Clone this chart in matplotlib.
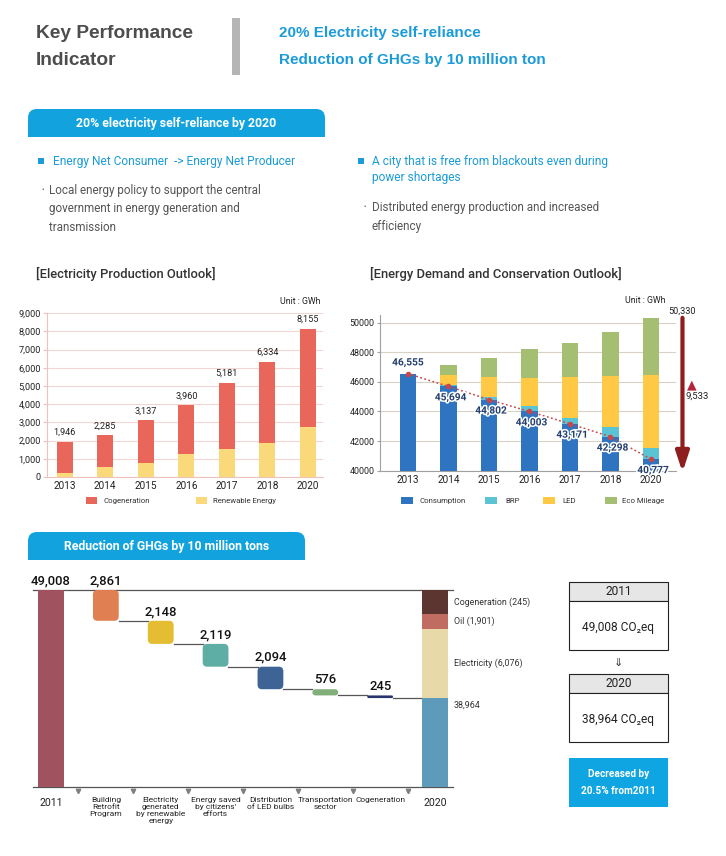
import matplotlib
matplotlib.use('Agg')
import matplotlib.pyplot as plt
from matplotlib.patches import Rectangle, FancyBboxPatch
import matplotlib.patheffects as pe
import matplotlib.transforms as mtrans
import numpy as np

plt.rcParams['font.family'] = ['Roboto', 'DejaVu Sans']

# ---------------- data ----------------
prod_years = ['2013', '2014', '2015', '2016', '2017', '2018', '2020']
prod_total = [1946, 2285, 3137, 3960, 5181, 6334, 8155]
prod_renewable = [200, 530, 750, 1250, 1520, 1850, 2730]
prod_cogeneration = [t - r for t, r in zip(prod_total, prod_renewable)]
prod_yticks = [0, 1000, 2000, 3000, 4000, 5000, 6000, 7000, 8000, 9000]

dem_years = ['2013', '2014', '2015', '2016', '2017', '2018', '2020']
dem_consumption = [46555, 45694, 44802, 44003, 43171, 42298, 40777]
dem_brp = [0, 100, 180, 370, 370, 675, 777]
dem_led = [0, 672, 1330, 1892, 2810, 3426, 4912]
dem_eco = [0, 676, 1324, 1959, 2298, 2973, 3864]
dem_yticks = [40000, 42000, 44000, 46000, 48000, 50000]
dem_bau_label = '50,330'
dem_bau_value = 50330
dem_saving_label = '9,533'

ghg_categories = ['2011', 'Building\nRetrofit\nProgram',
                  'Electricity\ngenerated\nby renewable\nenergy',
                  "Energy saved\nby citizens'\nefforts",
                  'Distribution\nof LED bulbs', 'Transportation\nsector',
                  'Cogeneration', '2020']
ghg_start = 49008
ghg_reductions = [2861, 2148, 2119, 2094, 576, 245]
ghg_end = 38964
ghg_2020_segments = [38964, 6440, 1400, 2204]
ghg_2020_labels = ['38,964', 'Electricity (6,076)', 'Oil (1,901)', 'Cogeneration (245)']

# ---------------- colours ----------------
BLUE = '#12A3DF'
HEAD_BLUE = '#1B9BD7'
GRAY_TXT = '#555555'
C_COGEN = '#E8675A'
C_RENEW = '#FAD97A'
C_CONS = '#2F74C0'
C_BRP = '#5BC4D4'
C_LED = '#FFC845'
C_ECO = '#A4BF72'
WF_COLORS = ['#A0525E', '#E07F52', '#E4BD32', '#5FAEA5', '#3E6496', '#82AE7A', '#26336E']
C2020 = ['#5E9BBB', '#E8D9A8', '#C06C60', '#5C3530']

W, H = 726, 856
fig = plt.figure(figsize=(W / 100, H / 100), dpi=100)
ov = fig.add_axes([0, 0, 1, 1], zorder=0)
ov.set_xlim(0, W)
ov.set_ylim(H, 0)
ov.axis('off')


def add_ax(l, t, r, b, z=2):
    return fig.add_axes([l / W, 1 - b / H, (r - l) / W, (b - t) / H], zorder=z)


# ---------------- header ----------------
ov.text(36, 33, 'Key Performance', fontsize=13.8, fontweight='bold', color='#4d4d4d',
        va='center', family='Liberation Sans')
ov.text(36, 60, 'Indicator', fontsize=13.8, fontweight='bold', color='#4d4d4d',
        va='center', family='Liberation Sans')
ov.add_patch(Rectangle((232, 18), 8, 57, color='#b5b5b5', lw=0))
ov.text(279, 33, '20% Electricity self-reliance', fontsize=11, fontweight='bold',
        color=HEAD_BLUE, va='center', family='Liberation Sans')
ov.text(279, 60, 'Reduction of GHGs by 10 million ton', fontsize=11, fontweight='bold',
        color=HEAD_BLUE, va='center', family='Liberation Sans')


def banner(x0, y0, x1, y1, text, cx):
    ov.add_patch(FancyBboxPatch((x0, y0), x1 - x0, y1 - y0,
                                boxstyle='round,pad=0,rounding_size=9', fc=BLUE, ec='none'))
    ov.add_patch(Rectangle((x0, (y0 + y1) / 2), x1 - x0, (y1 - y0) / 2, fc=BLUE, ec='none'))
    ov.text(cx, (y0 + y1) / 2 + 0.5, text, color='white', fontweight='bold', fontsize=8.8,
            ha='center', va='center')


banner(28, 109, 325, 137, '20% electricity self-reliance by 2020', 176.5)
banner(28, 532, 305, 560, 'Reduction of GHGs by 10 million tons', 167)

# bullets
ov.add_patch(Rectangle((38, 158), 6, 6, color=HEAD_BLUE, lw=0))
ov.text(53, 161.5, 'Energy Net Consumer  -> Energy Net Producer', fontsize=8.6,
        color=HEAD_BLUE, va='center')
ov.text(42, 190, '•', fontsize=5, color=GRAY_TXT, va='center')
for i, line in enumerate(['Local energy policy to support the central',
                          'government in energy generation and', 'transmission']):
    ov.text(49, 190 + i * 18.8, line, fontsize=8.4, color=GRAY_TXT, va='center')

ov.add_patch(Rectangle((358, 158), 6, 6, color=HEAD_BLUE, lw=0))
ov.text(372, 161.5, 'A city that is free from blackouts even during', fontsize=8.6,
        color=HEAD_BLUE, va='center')
ov.text(372, 177.7, 'power shortages', fontsize=8.6, color=HEAD_BLUE, va='center')
ov.text(363, 207.7, '•', fontsize=5, color=GRAY_TXT, va='center')
ov.text(372, 207.7, 'Distributed energy production and increased', fontsize=8.4,
        color=GRAY_TXT, va='center')
ov.text(372, 226.7, 'efficiency', fontsize=8.4, color=GRAY_TXT, va='center')

ov.text(36, 274, '[Electricity Production Outlook]', fontsize=9.4, color='#333333',
        va='center', fontweight='medium')
ov.text(370, 274, '[Energy Demand and Conservation Outlook]', fontsize=9.4, color='#333333',
        va='center', fontweight='medium')

# ---------------- left chart ----------------
ax1 = add_ax(47, 313.3, 323, 477)
x = np.arange(len(prod_years))
ax1.bar(x, prod_renewable, width=0.395, color=C_RENEW, zorder=3)
ax1.bar(x, prod_cogeneration, bottom=prod_renewable, width=0.395, color=C_COGEN, zorder=3)
ax1.set_xlim(-0.437, 6.37)
ax1.set_ylim(0, 9000)
ax1.set_yticks(prod_yticks)
ax1.set_yticklabels([f'{v:,}' for v in prod_yticks], fontsize=6.6, color='#222')
ax1.set_xticks(x)
ax1.set_xticklabels(prod_years, fontsize=7.2, color='#222')
ax1.grid(axis='y', color='#F3D6D1', lw=0.8, zorder=0)
ax1.set_axisbelow(True)
for s in ['top', 'right']:
    ax1.spines[s].set_visible(False)
for s in ['left', 'bottom']:
    ax1.spines[s].set_color('#EDC3BC')
    ax1.spines[s].set_linewidth(0.8)
ax1.tick_params(axis='y', length=3, color='#EDC3BC', pad=1.5)
ax1.tick_params(axis='x', length=0, pad=3)
for xi, t in zip(x, prod_total):
    ax1.text(xi, t + 260, f'{t:,}', ha='center', va='bottom', fontsize=6.6, color='#222')
ov.text(320, 302, 'Unit : GWh', fontsize=6.3, color='#222', ha='right', va='center')
ov.add_patch(Rectangle((86, 497), 11, 7, color=C_COGEN, lw=0))
ov.text(103, 500.5, 'Cogeneration', fontsize=5.6, color='#333', va='center')
ov.add_patch(Rectangle((196, 497), 11, 7, color=C_RENEW, lw=0))
ov.text(213, 500.5, 'Renewable Energy', fontsize=5.6, color='#333', va='center')

# ---------------- right chart ----------------
ax2 = add_ax(380, 315.3, 676, 470.7)
x2 = np.arange(len(dem_years))
cons = np.array(dem_consumption)
brp = np.array(dem_brp)
led = np.array(dem_led)
eco = np.array(dem_eco)
bw2 = 0.4
ax2.bar(x2, cons, width=bw2, color=C_CONS, zorder=3)
ax2.bar(x2, brp, bottom=cons, width=bw2, color=C_BRP, zorder=3)
ax2.bar(x2, led, bottom=cons + brp, width=bw2, color=C_LED, zorder=3)
ax2.bar(x2, eco, bottom=cons + brp + led, width=bw2, color=C_ECO, zorder=3)
ax2.plot(x2, cons, ls=(0, (1.2, 1.6)), color='#C8474A', lw=1.1, marker='o', ms=3,
         zorder=4)
for i, v in enumerate(dem_consumption):
    dy = 8 if i == 0 else -8
    ax2.annotate(f'{v:,}', (i, v), xytext=(1.5 if i else 0, dy), textcoords='offset points',
                 ha='center', va='center', fontsize=7.3, fontweight='bold', color='#24406F',
                 zorder=5,
                 path_effects=[pe.withStroke(linewidth=2.2, foreground='white')])
ax2.set_xlim(-0.69, 6.62)
ax2.set_ylim(40000, 50500)
ax2.set_yticks(dem_yticks)
ax2.set_yticklabels([str(v) for v in dem_yticks], fontsize=6.4, color='#222')
ax2.set_xticks(x2)
ax2.set_xticklabels(dem_years, fontsize=7.2, color='#222')
ax2.grid(axis='y', color='#D9D1C3', lw=0.8, zorder=0)
ax2.set_axisbelow(True)
for s in ['top', 'right']:
    ax2.spines[s].set_visible(False)
for s in ['left', 'bottom']:
    ax2.spines[s].set_color('#A0A0A0')
    ax2.spines[s].set_linewidth(0.8)
ax2.tick_params(axis='y', length=2, color='#A0A0A0', pad=2)
ax2.tick_params(axis='x', length=0, pad=3)
ax2.annotate('', xy=(6.78, 39900), xytext=(6.78, dem_bau_value),
             arrowprops=dict(arrowstyle='-|>,head_width=0.33,head_length=1.0', lw=3,
                             color='#8E1E1E', shrinkA=0, shrinkB=0, mutation_scale=12),
             annotation_clip=False)
ax2.text(6.78, dem_bau_value + 150, dem_bau_label, ha='center', va='bottom', fontsize=6.6,
         color='#222', clip_on=False)
ax2.text(7.0, 45800, '▲', ha='center', va='center', fontsize=9, color='#B3263A',
         clip_on=False, family='DejaVu Sans')
ax2.text(6.86, 45030, dem_saving_label, ha='left', va='center', fontsize=6.8,
         color='#222', clip_on=False)
ov.text(645, 300.5, 'Unit : GWh', fontsize=6.3, color='#222', ha='center', va='center')
leg2 = [(C_CONS, 'Consumption', 401, 420), (C_BRP, 'BRP', 485, 505),
        (C_LED, 'LED', 543, 562), (C_ECO, 'Eco Mileage', 605, 622)]
for c, lab, sx, tx in leg2:
    ov.add_patch(Rectangle((sx, 497), 12, 7, color=c, lw=0))
    ov.text(tx, 500.5, lab, fontsize=5.6, color='#333', va='center')

# ---------------- waterfall ----------------
ax3 = add_ax(33, 590, 453, 787)
ax3.set_xlim(-0.328, 7.328)
ax3.set_ylim(30700, ghg_start)
ax_w_px = 420.0
ax_h_px = 197.0
px_per_x = ax_w_px / (7.328 + 0.328)
px_per_y = ax_h_px / (ghg_start - 30700)
bw3 = 0.47

ax3.bar(0, ghg_start, width=bw3, color=WF_COLORS[0], zorder=3)
ax3.annotate(f'{ghg_start:,}', (0, ghg_start), xytext=(0, 2), textcoords='offset points',
             ha='center', va='bottom', fontsize=9.4, color='#111', fontweight='medium',
             annotation_clip=False)
level = ghg_start
for i, r in enumerate(ghg_reductions):
    xi = i + 1
    bottom = level - r
    h_px = r * px_per_y
    rad_px = min(4.5, h_px / 2.0)
    aspect = (1 / px_per_y) / (1 / px_per_x)
    ax3.add_patch(FancyBboxPatch((xi - bw3 / 2, bottom), bw3, r,
                                 boxstyle=f'round,pad=0,rounding_size={rad_px / px_per_x}',
                                 mutation_aspect=aspect, fc=WF_COLORS[i + 1], ec='none',
                                 zorder=3))
    ax3.plot([xi + bw3 / 2, xi + 1 - bw3 / 2], [bottom, bottom], color='#555555', lw=0.9,
             zorder=2)
    ax3.annotate(f'{r:,}', (xi, level), xytext=(0, 2), textcoords='offset points',
                 ha='center', va='bottom', fontsize=9.4, color='#111', fontweight='medium',
                 annotation_clip=False)
    level = bottom

b = 0
seg_mid = []
for seg, c in zip(ghg_2020_segments, C2020):
    ax3.bar(7, seg, bottom=b, width=bw3, color=c, zorder=3)
    seg_mid.append(b + seg / 2)
    b += seg
label_y = [ghg_2020_segments[0] - 700] + seg_mid[1:]
for lab, yv in zip(ghg_2020_labels, label_y):
    ax3.text(7.34, yv, lab, fontsize=6.4, color='#333', va='center', ha='left',
             clip_on=False)

ax3.set_xticks([])
ax3.set_yticks([])
for s in ['left', 'right']:
    ax3.spines[s].set_visible(False)
for s in ['top', 'bottom']:
    ax3.spines[s].set_color('#555555')
    ax3.spines[s].set_linewidth(0.9)
trans = mtrans.blended_transform_factory(ax3.transData, ax3.transAxes)
ax3.plot(np.arange(7) + 0.5, [-0.022] * 7, ls='none', marker='v', ms=3.2, color='#808080',
         transform=trans, clip_on=False)
for i, lab in enumerate(ghg_categories):
    if i in (0, 7):
        ax3.text(i, -0.08, lab, transform=trans, ha='center', va='center', fontsize=7.6,
                 color='#222')
    else:
        ax3.text(i, -0.05, lab, transform=trans, ha='center', va='top', fontsize=6.0,
                 color='#222', linespacing=1.2)

# ---------------- right summary boxes ----------------
def summary_box(y0, year, value):
    ov.add_patch(Rectangle((569, y0), 99, 19, fc='#E6E6E6', ec='#222', lw=0.8))
    ov.add_patch(Rectangle((569, y0 + 19), 99, 49, fc='white', ec='#222', lw=0.8))
    ov.text(618.5, y0 + 9.5, year, ha='center', va='center', fontsize=8.6, color='#222')
    ov.text(618.5, y0 + 45, value, ha='center', va='center', fontsize=8.6, color='#222')


summary_box(582, '2011', '49,008 CO₂eq')
ov.text(618.5, 663, '⇓', ha='center', va='center', fontsize=8, color='#333',
        family='DejaVu Sans')
summary_box(674, '2020', '38,964 CO₂eq')
ov.add_patch(Rectangle((569, 758), 99, 49, fc='#0EA5E2', ec='none'))
ov.text(618.5, 774, 'Decreased by', ha='center', va='center', fontsize=7.2,
        color='white', fontweight='bold')
ov.text(618.5, 791, '20.5% from2011', ha='center', va='center', fontsize=7.2,
        color='white', fontweight='bold')

fig.savefig('out.png', dpi=100)
